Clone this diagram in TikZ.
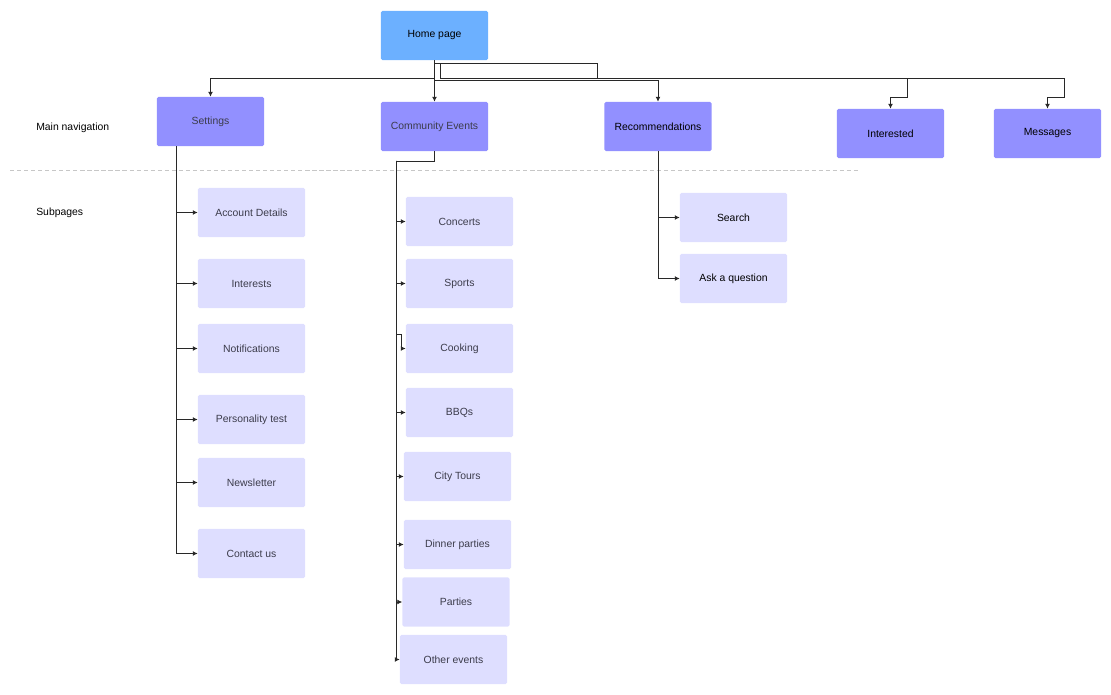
\documentclass[tikz,border=0pt]{standalone}
\usepackage{fontspec}
\setmainfont{Liberation Sans}
\usetikzlibrary{arrows.meta,calc,positioning}

\definecolor{homeblue}{RGB}{108,176,255}
\definecolor{mainviolet}{RGB}{146,144,255}
\definecolor{subviolet}{RGB}{222,222,255}
\definecolor{linegray}{RGB}{40,40,40}
\definecolor{textgray}{RGB}{60,60,75}

\tikzset{
  page/.style={rectangle, rounded corners=1pt, inner sep=0pt,
    minimum width=2.675cm, minimum height=1.225cm,
    font=\fontsize{7.4}{9}\selectfont},
  homepage/.style={page, fill=homeblue, text=black},
  mainpage/.style={page, fill=mainviolet, text=black},
  subpage/.style={page, fill=subviolet, text=textgray},
  lvl/.style={font=\fontsize{7.4}{9}\selectfont, anchor=west, inner sep=0pt},
  arr/.style={draw=linegray, line width=0.6pt, -{Latex[length=3.5pt,width=3.5pt]}},
  sep/.style={draw=black!22, line width=0.6pt, dash pattern=on 3pt off 2pt}
}

\begin{document}
\begin{tikzpicture}[x=0.025cm, y=-0.025cm]
  \useasboundingbox (0,0) rectangle (1111,695);
  %levels
  \node[lvl] (navlbl) at (36,127.5) {Main navigation};
  \node[lvl] (sublbl) at (36,212.5) {Subpages};
  \draw[sep] (10,170) -- (860,170);
  %top
  \node[homepage] (home) at (434.5,35.5) {Home page};
  %main navigation
  \node[mainpage, text=textgray] (set) at (210.5,121.5) {Settings};
  \node[mainpage, text=textgray] (ce) at (434.5,126.5) {Community Events};
  \node[mainpage] (rec) at (658,126.5) {Recommendations};
  \node[mainpage] (int) at (890.5,133.5) {Interested};
  \node[mainpage] (msg) at (1047.5,133.5) {Messages};
  %settings
  \node[subpage] (acc) at (251.5,212.5) {Account Details};
  \node[subpage] (intr) at (251.5,283.5) {Interests};
  \node[subpage] (notif) at (251.5,348.5) {Notifications};
  \node[subpage] (pers) at (251.5,419.5) {Personality test};
  \node[subpage] (news) at (251.5,482.5) {Newsletter};
  \node[subpage] (cont) at (251.5,553.5) {Contact us};
  %community events
  \node[subpage] (conc) at (459.5,221.5) {Concerts};
  \node[subpage] (sport) at (459.5,283.5) {Sports};
  \node[subpage] (cook) at (459.5,348.5) {Cooking};
  \node[subpage] (bbq) at (459.5,412.5) {BBQs};
  \node[subpage] (city) at (457.5,476.5) {City Tours};
  \node[subpage] (dinner) at (457.5,544.5) {Dinner parties};
  \node[subpage] (party) at (456,602) {Parties};
  \node[subpage] (other) at (453.5,659.5) {Other events};
  %recommendations
  \node[subpage, text=black] (search) at (733.5,217.5) {Search};
  \node[subpage, text=black] (ask) at (733.5,278.5) {Ask a question};

  %home to main navigation
  \draw[arr] (home.south) -- ++(0,18) -| (set.north);
  \draw[arr] (home.south) -- (ce.north);
  \draw[arr] (home.south) -- ++(0,20) -| (rec.north);
  \draw[arr] (home.south) -- ++(0,3) -| ++(6,15) -| ($(int.north)+(17,-11)$) -| (int.north);
  \draw[arr] (home.south) -- ++(0,3) -| ++(163,15) -| ($(msg.north)+(17,-11)$) -| (msg.north);

  %settings subpages
  \coordinate (settrunk) at ($(set.south west)+(20,0)$);
  \foreach \n in {acc,intr,notif,pers,news,cont}
    \draw[arr] (settrunk) |- (\n.west);

  %community events subpages
  \coordinate (cetrunk) at (396,161);
  \draw[linegray, line width=0.6pt] (ce.south) |- (cetrunk);
  \foreach \n in {conc,sport,bbq,city,dinner,party,other}
    \draw[arr] (cetrunk) |- (\n.west);
  \draw[arr] (cetrunk) -- (396,334) -| ++(5,14.5) -- (cook.west);

  %recommendations subpages
  \draw[arr] (rec.south) |- (search.west);
  \draw[arr] (rec.south) |- (ask.west);
\end{tikzpicture}
\end{document}
